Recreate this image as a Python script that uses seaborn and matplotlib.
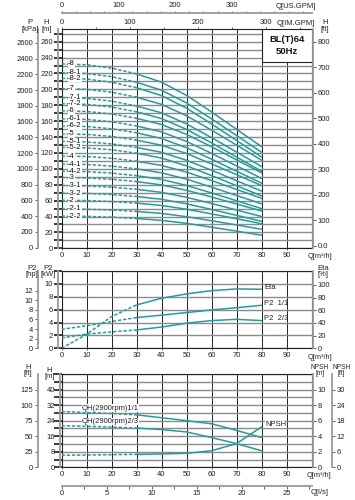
import matplotlib
matplotlib.use('Agg')
import numpy as np
import pandas as pd
import seaborn as sns
import matplotlib.pyplot as plt
from matplotlib.patches import Rectangle
from matplotlib.ticker import MultipleLocator, FixedLocator

sns.set_theme(style='white')
plt.rcParams['font.family'] = ['Liberation Sans', 'DejaVu Sans']
plt.rcParams['mathtext.default'] = 'regular'

TEAL = '#1f9ea0'
FS = 5.5
W, H = 355, 500

# ---------------- data ----------------
flow = [0, 10, 20, 30, 40, 50, 60, 70, 80]

stage_labels = ['-8', '-8-1', '-8-2', '-7', '-7-1', '-7-2', '-6', '-6-1', '-6-2',
                '-5', '-5-1', '-5-2', '-4', '-4-1', '-4-2', '-3', '-3-1', '-3-2',
                '-2', '-2-1', '-2-2']
stage_heads = [
    [232, 231.0, 226.8, 219.5, 209.1, 192.5, 171.7, 149.8, 128],
    [221, 220.0, 216.0, 209.0, 199.0, 183.0, 163.0, 142.0, 121],
    [214, 213.0, 209.1, 202.1, 192.2, 176.4, 156.6, 135.8, 115],
    [201, 200.1, 196.5, 190.2, 181.2, 166.8, 148.8, 129.9, 111],
    [189.5, 188.6, 185.2, 179.1, 170.5, 156.6, 139.3, 121.2, 103],
    [182, 181.2, 177.8, 171.8, 163.3, 149.7, 132.7, 114.9, 97],
    [173, 172.2, 169.1, 163.6, 155.8, 143.4, 127.8, 111.4, 95],
    [163, 162.3, 159.3, 154.0, 146.5, 134.5, 119.5, 103.8, 88],
    [154, 153.3, 150.4, 145.4, 138.2, 126.6, 112.2, 97.1, 82],
    [144, 143.4, 140.8, 136.2, 129.7, 119.3, 106.3, 92.7, 79],
    [134.5, 133.9, 131.4, 127.0, 120.8, 110.8, 98.3, 85.1, 72],
    [127, 126.4, 124.0, 119.7, 113.6, 103.8, 91.6, 78.8, 66],
    [116, 115.5, 113.4, 109.6, 104.3, 95.9, 85.3, 74.1, 63],
    [106, 105.5, 103.5, 100.0, 95.0, 87.0, 77.0, 66.5, 56],
    [97, 96.5, 94.7, 91.4, 86.7, 79.1, 69.7, 59.9, 50],
    [89, 88.6, 86.9, 84.0, 79.8, 73.0, 64.6, 55.8, 47],
    [79, 78.6, 77.0, 74.3, 70.4, 64.2, 56.4, 48.2, 40],
    [69.5, 69.1, 67.7, 65.2, 61.7, 56.0, 48.9, 41.5, 34],
    [60.4, 60.1, 58.9, 56.9, 53.9, 49.2, 43.3, 37.2, 31],
    [49.5, 49.2, 48.2, 46.4, 43.9, 39.8, 34.7, 29.4, 24],
    [40.4, 40.2, 39.2, 37.5, 35.2, 31.4, 26.6, 21.6, 16.6],
]

eta = [0, 22, 50, 68.4, 79, 85.8, 91, 93.7, 93.2]
p2_full = [2.95, 3.5, 4.15, 4.77, 5.15, 5.55, 5.95, 6.3, 6.68]
p2_two_thirds = [1.6, 2.2, 2.55, 2.85, 3.3, 3.9, 4.3, 4.5, 4.3]

qh_full = [28.7, 28.2, 27.7, 27.0, 25.5, 24.0, 22.4, 19.0, 15.3]
qh_two_thirds = [21.4, 21.1, 20.7, 20.2, 19.4, 18.2, 15.3, 12.2, 8.5]
npsh = [1.55, 1.58, 1.62, 1.67, 1.72, 1.8, 2.13, 3.05, 5.2]

model_name = 'BL(T)64\n50Hz'

# ---------------- helpers ----------------
fig = plt.figure(figsize=(W / 100, H / 100), dpi=100)
fig.patch.set_facecolor('white')


def px_axes(left, top, right, bottom):
    return fig.add_axes([left / W, 1 - bottom / H, (right - left) / W, (bottom - top) / H])


def ftext(x, y, s, **kw):
    kw.setdefault('fontsize', FS)
    kw.setdefault('ha', 'center')
    kw.setdefault('va', 'center')
    kw.setdefault('color', '#222')
    fig.text(x / W, 1 - y / H, s, **kw)


def curve(ax, ys):
    xs = np.array(flow, dtype=float)
    ys = np.array(ys, dtype=float)
    m1 = xs <= 30
    m2 = xs >= 30
    sns.lineplot(x=xs[m1], y=ys[m1], ax=ax, color=TEAL, lw=1.1,
                 linestyle=(0, (2.2, 1.2)), estimator=None, sort=False, zorder=4)
    sns.lineplot(x=xs[m2], y=ys[m2], ax=ax, color=TEAL, lw=1.1,
                 estimator=None, sort=False, zorder=4)
    ax.set_xlabel('')
    ax.set_ylabel('')


def frame(ax, ylim, yminor):
    ax.set_xlim(0, 100)
    ax.set_ylim(*ylim)
    ax.set_xticks(range(0, 100, 10))
    ax.yaxis.set_major_locator(FixedLocator(yminor))
    ax.tick_params(axis='x', direction='out', length=1.5, width=0.5, labelsize=FS,
                   pad=1.5, labelcolor='#222', bottom=True)
    ax.tick_params(axis='y', left=False, labelleft=False)
    ax.xaxis.grid(True, color='#222', lw=0.7)
    ax.yaxis.grid(True, color='#8a8a8a', lw=1.0)
    ax.set_axisbelow(True)
    for s in ax.spines.values():
        s.set_color('#222')
        s.set_linewidth(0.8)


def side_axis(ax, side, ylim, ticks, labels=None, offset=0.0, lw=1.3):
    t = ax.twinx()
    t.set_ylim(*ylim)
    for s in t.spines.values():
        s.set_visible(False)
    sp = t.spines[side]
    sp.set_visible(True)
    sp.set_color('#9a9a9a')
    sp.set_linewidth(lw)
    sp.set_position(('outward', offset))
    t.yaxis.set_ticks_position(side)
    t.set_yticks(ticks)
    if labels is not None:
        t.set_yticklabels(labels)
    t.tick_params(axis='y', direction='out', length=2.5, width=0.6, color='#444',
                  labelsize=FS, pad=1, labelcolor='#222',
                  left=(side == 'left'), right=(side == 'right'),
                  labelleft=(side == 'left'), labelright=(side == 'right'))
    t.grid(False)
    return t


# ---------------- top chart: QH ----------------
ax1 = px_axes(61.5, 29, 311.5, 248.3)
frame(ax1, (0, 276), list(range(0, 277, 10)))
for lab, hs in zip(stage_labels, stage_heads):
    curve(ax1, hs)
    ax1.text(2.6, hs[0], lab, fontsize=FS, ha='left', va='center', color='#111', zorder=6,
             bbox=dict(fc='white', ec='none', pad=0.2))

ax1.add_patch(Rectangle((80, 235), 20, 41, fc='white', ec='#222', lw=0.8, zorder=5))
ax1.text(90, 255.5, model_name, ha='center', va='center', fontsize=6.8,
         fontweight='bold', color='#111', zorder=6, linespacing=1.5)

side_axis(ax1, 'left', (0, 276), list(range(0, 261, 20)), offset=2.5)
side_axis(ax1, 'left', (-8, 2775), list(range(0, 2601, 200)), offset=17)
side_axis(ax1, 'right', (-10, 850), list(range(0, 801, 100)),
          labels=['0.0'] + [str(v) for v in range(100, 801, 100)], offset=1)

im = ax1.secondary_xaxis('top', functions=(lambda q: q / 0.2728, lambda g: g * 0.2728))
im.set_xticks([0, 100, 200, 300])
im.xaxis.set_minor_locator(MultipleLocator(50))
im.tick_params(which='both', direction='out', length=1.5, width=0.5, labelsize=FS,
               pad=1, labelcolor='#222', top=True)
im.spines['top'].set_visible(False)

us = ax1.secondary_xaxis(1.0716, functions=(lambda q: q / 0.2271, lambda g: g * 0.2271))
us.set_xticks([0, 100, 200, 300])
us.xaxis.set_minor_locator(MultipleLocator(25))
us.tick_params(which='both', direction='out', length=1.8, width=0.5, labelsize=FS,
               pad=1, labelcolor='#222', top=True)
us.spines['top'].set_color('#9a9a9a')
us.spines['top'].set_linewidth(1.3)

ftext(30, 23, 'P')
ftext(30, 29.5, '[kPa]')
ftext(46.5, 23, 'H')
ftext(46.5, 29.5, '[m]')
ftext(325, 23, 'H')
ftext(325, 29.5, '[ft]')
ftext(296, 6.5, 'Q[US.GPM]')
ftext(296, 23.3, 'Q[IM.GPM]')
ftext(320, 256.5, 'Q[m³/h]', fontsize=5.3)

# ---------------- middle chart: P2 / Eta ----------------
ax2 = px_axes(61.5, 271, 311.5, 348.3)
frame(ax2, (0, 12), [0, 2, 4, 6, 8, 10, 12])
ax2.set_xticks(range(0, 100, 10))
curve(ax2, p2_full)
curve(ax2, p2_two_thirds)
ax_eta = side_axis(ax2, 'right', (0, 122), list(range(0, 101, 20)), offset=1)
curve(ax_eta, eta)
side_axis(ax2, 'left', (0, 12), [0, 2, 4, 6, 8, 10], offset=2.5)
side_axis(ax2, 'left', (0, 12 / 0.7457), list(range(0, 13, 2)), offset=17)
ax2.text(81, 9.45, 'Eta', fontsize=FS, ha='left', va='center', color='#222')
ax2.text(81, 6.95, 'P2  1/1', fontsize=FS, ha='left', va='center', color='#222')
ax2.text(81, 4.65, 'P2  2/3', fontsize=FS, ha='left', va='center', color='#222')
ftext(32, 268.3, 'P2')
ftext(32, 274.3, '[hp]')
ftext(48.3, 268.3, 'P2')
ftext(48.3, 274.3, '[kW]')
ftext(323, 269, 'Eta')
ftext(323, 274.5, '[%]')
ftext(320, 357.5, 'Q[m³/h]', fontsize=5.3)

# ---------------- bottom chart: QH 2900rpm / NPSH ----------------
ax3 = px_axes(61.5, 374, 311.5, 467.3)
frame(ax3, (0, 48), list(range(0, 49, 4)))
curve(ax3, qh_full)
curve(ax3, qh_two_thirds)
ax_np = side_axis(ax3, 'right', (0, 12), [0, 2, 4, 6, 8, 10], offset=1)
curve(ax_np, npsh)
side_axis(ax3, 'right', (0, 36), [0, 6, 12, 18, 24, 30], offset=14.5)
side_axis(ax3, 'left', (0, 48), [0, 8, 16, 24, 32, 40], offset=1)
side_axis(ax3, 'left', (0, 150), [0, 25, 50, 75, 100, 125], offset=17)
ax3.text(8.2, 30.4, 'QH(2900rpm)1/1', fontsize=FS, ha='left', va='center', color='#222',
         zorder=6, bbox=dict(fc='white', ec='none', pad=0.2))
ax3.text(8.2, 23.5, 'QH(2900rpm)2/3', fontsize=FS, ha='left', va='center', color='#222',
         zorder=6, bbox=dict(fc='white', ec='none', pad=0.2))
ax3.text(81.4, 22.1, 'NPSH', fontsize=FS, ha='left', va='center', color='#222',
         zorder=6, bbox=dict(fc='white', ec='none', pad=0.2))

ls = ax3.secondary_xaxis(-0.2, functions=(lambda q: q / 3.6, lambda l: l * 3.6))
ls.set_xticks([0, 5, 10, 15, 20, 25])
ls.xaxis.set_minor_locator(MultipleLocator(2.5))
ls.tick_params(which='both', direction='out', length=1.8, width=0.5, labelsize=FS,
               pad=1, labelcolor='#222', bottom=True)
ls.spines['bottom'].set_color('#9a9a9a')
ls.spines['bottom'].set_linewidth(1.3)

ftext(28.3, 367.3, 'H')
ftext(28.3, 373.5, '[ft]')
ftext(49.3, 370.5, 'H')
ftext(49.3, 376.5, '[m]')
ftext(320, 367.3, 'NPSH', fontsize=4.8)
ftext(320, 373.6, '[m]', fontsize=4.8)
ftext(341.5, 367.3, 'NPSH', fontsize=4.8)
ftext(341.5, 373.6, '[ft]', fontsize=4.8)
ftext(319, 475.5, 'Q[m³/h]', fontsize=5.3)
ftext(320, 492, 'Q[l/s]')

fig.savefig('out.png', dpi=100, facecolor='white')
